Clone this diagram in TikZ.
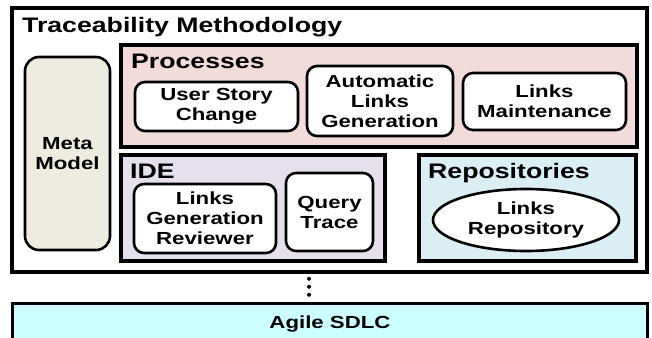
\documentclass[tikz,border=0pt]{standalone}
\usepackage{fontspec}
\setmainfont[FakeStretch=1.27]{Liberation Sans}
\usetikzlibrary{shapes.geometric}
\definecolor{metaC}{HTML}{EEECE1}
\definecolor{procC}{HTML}{F2DCDB}
\definecolor{ideC}{HTML}{E5E0EC}
\definecolor{repoC}{HTML}{DBEEF3}
\definecolor{agileC}{HTML}{CCFFFF}
\begin{document}
\begin{tikzpicture}[x=1pt,y=-1pt,
  txt/.style={font=\bfseries\fontsize{17.5}{20}\selectfont, align=center},
  lbl/.style={font=\bfseries\fontsize{21}{24}\selectfont, anchor=base west, inner sep=0},
  group/.style={draw=black, line width=4pt, inner sep=0},
  itembox/.style={txt, draw=black, line width=2.6pt, fill=white, rounded corners=10pt, inner sep=0},
]
\useasboundingbox (0,0) rectangle (652,337);
% outer
\node[draw=black, line width=3.5pt, fill=white, minimum width=635pt, minimum height=264pt, inner sep=0] (outer) at (329.5,140) {};
\node[lbl] (title) at (22,33) {Traceability Methodology};
% meta model
\node[txt, draw=black, line width=2.6pt, fill=metaC, rounded corners=14pt, minimum width=85pt, minimum height=193pt, inner sep=0] (meta) at (67.5,153.5) {Meta\\Model};
% processes
\node[group, fill=procC, minimum width=516pt, minimum height=102pt] (proc) at (379,96) {};
\node[lbl] (procl) at (131,68) {Processes};
\node[itembox, minimum width=163pt, minimum height=49pt] (usc) at (216.5,106.5) {User Story\\Change};
\node[itembox, minimum width=146pt, minimum height=70pt] (alg) at (380,101) {Automatic\\Links\\Generation};
\node[itembox, minimum width=163pt, minimum height=57pt] (lm) at (544.5,101.5) {Links\\Maintenance};
% IDE
\node[group, fill=ideC, minimum width=264pt, minimum height=106pt] (ide) at (253,208) {};
\node[lbl] (idel) at (130,178) {IDE};
\node[itembox, minimum width=142pt, minimum height=69pt] (lgr) at (205,218.5) {Links\\Generation\\Reviewer};
\node[itembox, minimum width=87pt, minimum height=78pt] (qt) at (329.5,212) {Query\\Trace};
% repositories
\node[group, fill=repoC, minimum width=217pt, minimum height=106pt] (repo) at (527.5,208) {};
\node[lbl] (repol) at (428,178) {Repositories};
\node[txt, ellipse, draw=black, line width=2.6pt, fill=white, minimum width=186pt, minimum height=62pt, inner sep=0] (lr) at (526,220) {Links\\Repository};
% agile
\node[draw=black, line width=3pt, fill=agileC, minimum width=635pt, minimum height=40pt, inner sep=0] (agile) at (329.5,323) {};
\node[txt, anchor=base] (agilel) at (330,328) {Agile SDLC};
% dotted connector
\coordinate (d1) at (309,272);
\draw[line width=4pt, line cap=round, dash pattern=on 0pt off 8pt] (d1 |- outer.south) ++(0,5) -- (d1 |- agile.north);
\end{tikzpicture}
\end{document}
